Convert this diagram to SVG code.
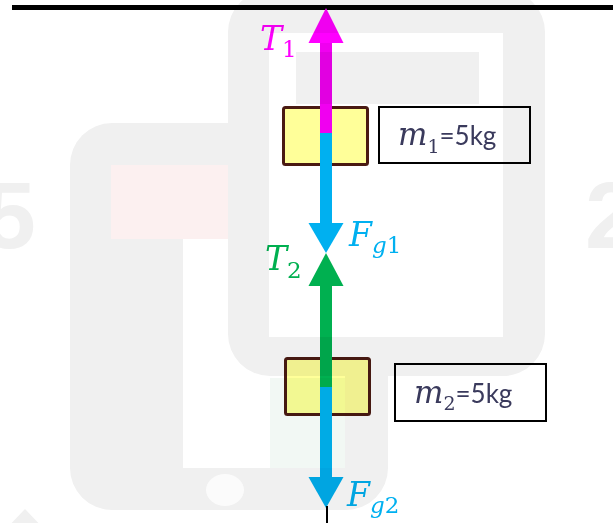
<svg xmlns="http://www.w3.org/2000/svg" width="613" height="523" viewBox="0 0 613 523">
<style>
.blk{stroke:#4a1a12;stroke-width:3}
.box{fill:#fff;stroke:#000;stroke-width:2}
.mi{font-family:"DejaVu Serif",serif;font-style:italic}
.up{font-family:"DejaVu Serif",serif;font-style:normal}
.cal{font-family:Lato,"Liberation Sans",sans-serif}
.mass{fill:#3a3a5c}
.wm{mix-blend-mode:multiply}
.wg{fill:#f0f0f0}
</style>
<rect width="613" height="523" fill="#fff"/>

<g id="ceiling">
  <line x1="12" y1="7.5" x2="613" y2="7.5" stroke="#000" stroke-width="5"/>
</g>

<g id="block1">
  <rect class="blk" x="283.5" y="107.5" width="84" height="57" rx="2" fill="#ffff99"/>
</g>
<g id="block2">
  <rect class="blk" x="285.5" y="358.5" width="84" height="56" rx="2" fill="#ffff99"/>
</g>

<g id="connectors">
  <!-- T1 -->
  <rect x="320" y="42" width="12" height="91" fill="#f000f0"/>
  <polygon points="326,8 343.5,43 308.5,43" fill="#ff00ff"/>
  <!-- Fg1 -->
  <rect x="320" y="133" width="12" height="91" fill="#00b0f0"/>
  <polygon points="326,253 343.5,223 308.5,223" fill="#00b0f0"/>
  <!-- T2 -->
  <rect x="320" y="285" width="12" height="102" fill="#00b050"/>
  <polygon points="326,253 343.5,286 308.5,286" fill="#00b050"/>
  <!-- Fg2 -->
  <rect x="320" y="387" width="12" height="91" fill="#00b0f0"/>
  <polygon points="326,508 343.5,477 308.5,477" fill="#00b0f0"/>
  <line x1="327" y1="506" x2="327" y2="523" stroke="#000" stroke-width="2"/>
</g>

<g id="label-T1" fill="#ff00ff">
  <text x="260" y="50" class="mi" font-size="33">T<tspan class="up" font-size="23" dy="7">1</tspan></text>
</g>
<g id="label-Fg1" fill="#00b0f0">
  <text x="349" y="246" class="mi" font-size="33">F<tspan font-size="23" dy="7">g</tspan><tspan class="up" font-size="23">1</tspan></text>
</g>
<g id="label-T2" fill="#00b050">
  <text x="265" y="270" class="mi" font-size="33">T<tspan class="up" font-size="23" dy="8">2</tspan></text>
</g>
<g id="label-Fg2" fill="#00b0f0">
  <text x="347" y="506" class="mi" font-size="33">F<tspan font-size="23" dy="7">g</tspan><tspan class="up" font-size="23">2</tspan></text>
</g>

<g id="mass1">
  <rect class="box" x="379" y="107" width="151" height="56"/>
  <text x="398" y="145" class="mass"><tspan class="mi" font-size="31">m</tspan><tspan class="up" font-size="19" dy="8">1</tspan><tspan class="cal" font-size="26" dy="-8">=5kg</tspan></text>
</g>
<g id="mass2">
  <rect class="box" x="395" y="364" width="151" height="57"/>
  <text x="414" y="403" class="mass"><tspan class="mi" font-size="31">m</tspan><tspan class="up" font-size="19" dy="7">2</tspan><tspan class="cal" font-size="26" dy="-7">=5kg</tspan></text>
</g>

<g id="watermark" class="wm">
  <rect class="wg" x="70" y="123" width="318" height="387" rx="42"/>
  <rect x="111" y="165" width="117" height="74" fill="#fcf0f0"/>
  <rect x="183" y="239" width="162" height="229" fill="#ffffff"/>
  <rect x="270" y="378" width="75" height="90" fill="#f2f8f4"/>
  <ellipse cx="225" cy="490" rx="19" ry="16" fill="#fbfbfb"/>
  <rect class="wg" x="228" y="-10" width="317" height="386" rx="42"/>
  <rect x="269" y="33" width="234" height="304" fill="#ffffff"/>
  <rect class="wg" x="296" y="52" width="183" height="52"/>
  <polygon class="wg" points="25,509 47,532 3,532"/>
  <text class="wg" x="-17" y="248" font-family="Liberation Sans,sans-serif" font-weight="bold" font-size="95">5</text>
  <text class="wg" x="585" y="248" font-family="Liberation Sans,sans-serif" font-weight="bold" font-size="95">2</text>
</g>
</svg>
